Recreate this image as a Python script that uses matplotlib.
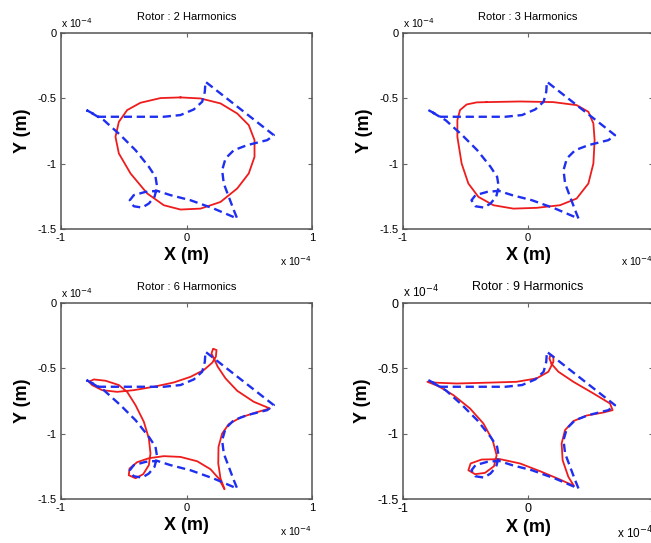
import numpy as np
import matplotlib.pyplot as plt

plt.rcParams['font.family'] = ['Liberation Sans', 'DejaVu Sans']
plt.rcParams['axes.unicode_minus'] = False

# measured orbit (blue dashed), same in every panel, units of 1e-4 m
blue_x = [-0.797, -0.699, -0.446, -0.181, -0.048, 0.058, 0.125, 0.146, 0.151,
          0.696, 0.643, 0.484, 0.377, 0.311, 0.284, 0.297, 0.337, 0.377, 0.404,
          0.218, 0.032, -0.127, -0.234, -0.327, -0.420, -0.452, -0.420, -0.353,
          -0.300, -0.255, -0.234, -0.247, -0.300, -0.406, -0.526, -0.659, -0.797]
blue_y = [-0.590, -0.641, -0.641, -0.641, -0.628, -0.585, -0.526, -0.450, -0.373,
          -0.782, -0.820, -0.858, -0.897, -0.960, -1.050, -1.152, -1.254, -1.356, -1.420,
          -1.344, -1.280, -1.241, -1.208, -1.216, -1.241, -1.280, -1.326, -1.336,
          -1.305, -1.254, -1.178, -1.101, -1.024, -0.897, -0.782, -0.667, -0.590]

# reconstructed orbits (red)
r2_x = [-0.048, 0.112, 0.271, 0.404, 0.496, 0.542, 0.542, 0.496, 0.404, 0.271, 0.112,
        -0.048, -0.181, -0.313, -0.446, -0.539, -0.566, -0.539, -0.473, -0.367, -0.207, -0.048]
r2_y = [-0.493, -0.501, -0.539, -0.616, -0.705, -0.820, -0.948, -1.075, -1.190, -1.293, -1.344,
        -1.351, -1.318, -1.228, -1.075, -0.922, -0.795, -0.680, -0.590, -0.534, -0.498, -0.493]

r3_x = [-0.331, -0.064, 0.203, 0.389, 0.483, 0.523, 0.533, 0.523, 0.483, 0.389, 0.256, 0.069,
        -0.117, -0.277, -0.397, -0.477, -0.531, -0.565, -0.565, -0.544, -0.491, -0.411, -0.331]
r3_y = [-0.529, -0.524, -0.529, -0.552, -0.603, -0.692, -0.820, -0.999, -1.152, -1.267, -1.318, -1.338,
        -1.344, -1.318, -1.254, -1.152, -0.999, -0.795, -0.667, -0.590, -0.547, -0.531, -0.529]

r6_x = [0.218, 0.199, 0.212, 0.239, 0.234, 0.205, 0.138, 0.032, -0.101, -0.261, -0.420, -0.552,
        -0.672, -0.752, -0.778, -0.738, -0.645, -0.539, -0.473, -0.406, -0.340, -0.300, -0.287,
        -0.300, -0.345, -0.406, -0.460, -0.454, -0.393, -0.300, -0.181, -0.048, 0.085, 0.191,
        0.257, 0.303, 0.271, 0.253, 0.255, 0.284, 0.337, 0.430, 0.563, 0.664, 0.536, 0.404,
        0.311, 0.249, 0.218]
r6_y = [-0.424, -0.386, -0.350, -0.360, -0.411, -0.457, -0.513, -0.565, -0.608, -0.641, -0.667, -0.680,
        -0.667, -0.628, -0.603, -0.585, -0.595, -0.628, -0.680, -0.782, -0.909, -1.037, -1.152,
        -1.241, -1.310, -1.341, -1.318, -1.267, -1.218, -1.188, -1.172, -1.178, -1.211, -1.272,
        -1.343, -1.425, -1.343, -1.228, -1.101, -0.999, -0.927, -0.876, -0.835, -0.807, -0.756, -0.672,
        -0.577, -0.488, -0.424]

r9_x = [0.189, 0.171, 0.181, 0.203, 0.203, 0.163, 0.069, -0.091, -0.331, -0.571, -0.731, -0.805,
        -0.717, -0.597, -0.464, -0.357, -0.283, -0.251, -0.272, -0.344, -0.424, -0.477, -0.459,
        -0.371, -0.224, -0.064, 0.096, 0.256, 0.368, 0.323, 0.277, 0.269, 0.296, 0.363, 0.469,
        0.603, 0.677, 0.656, 0.523, 0.363, 0.243, 0.189]
r9_y = [-0.467, -0.424, -0.396, -0.411, -0.450, -0.526, -0.577, -0.603, -0.610, -0.616, -0.610, -0.603,
        -0.636, -0.705, -0.807, -0.922, -1.050, -1.165, -1.249, -1.300, -1.310, -1.280, -1.228,
        -1.198, -1.195, -1.228, -1.287, -1.351, -1.400, -1.331, -1.203, -1.075, -0.973, -0.904, -0.861,
        -0.838, -0.820, -0.769, -0.692, -0.603, -0.526, -0.467]

harmonics = [2, 3, 6, 9]
red_x = [r2_x, r3_x, r6_x, r9_x]
red_y = [r2_y, r3_y, r6_y, r9_y]

W, H = 651, 543
boxes = [(61, 33, 251), (403, 33, 250), (61, 303, 251), (403, 303, 250)]

fig = plt.figure(figsize=(W / 100, H / 100), dpi=100)

for i in range(4):
    left, top, w = boxes[i]
    ax = fig.add_axes([left / W, 1 - (top + 196) / H, w / W, 196 / H])
    big = 1 if i == 3 else 0

    ax.plot(red_x[i], red_y[i], color='#ee1c1c', lw=1.3)
    ax.plot(blue_x, blue_y, color='#1f2ff0', lw=1.7, ls=(0, (3.5, 2)))

    ax.set_xlim(-1, 1)
    ax.set_ylim(-1.5, 0)
    ax.set_xticks([-1, 0, 1])
    ax.set_yticks([-1.5, -1, -0.5, 0])
    ax.set_xticklabels(['-1', '0', '1'])
    ax.set_yticklabels(['-1.5', '-1', '-0.5', '0'])
    ax.tick_params(direction='in', length=3, width=0.8, labelsize=8 + big,
                   top=True, right=True, pad=3, color='#666666')
    for s in ax.spines.values():
        s.set_color('#555555')
        s.set_linewidth(1.1)

    ax.set_title('Rotor : %d Harmonics' % harmonics[i], fontsize=8 + big, pad=9)
    ax.set_xlabel('X (m)', fontsize=13, fontweight='bold', labelpad=3)
    ax.set_ylabel('Y (m)', fontsize=13, fontweight='bold', labelpad=5)

    ax.text(0.0, 1.015, 'x 10$^{-4}$', transform=ax.transAxes, fontsize=7.5 + big,
            ha='left', va='bottom')
    ax.text(1.0, -0.13, 'x 10$^{-4}$', transform=ax.transAxes, fontsize=7.5 + big,
            ha='right', va='top')

fig.savefig('out.png', dpi=100)
